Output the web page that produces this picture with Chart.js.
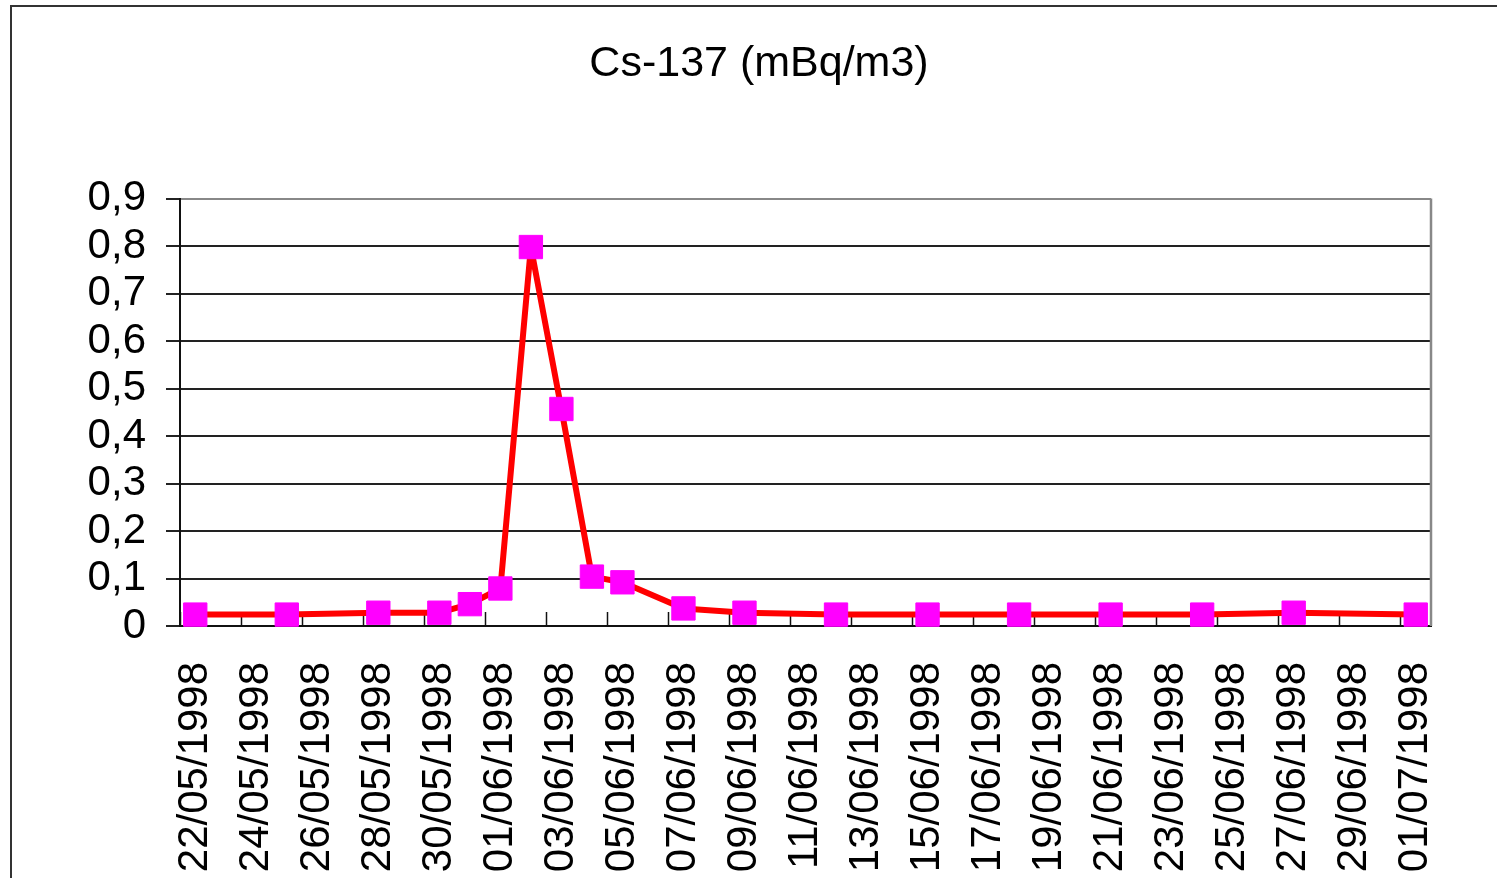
<!DOCTYPE html>
<html>
<head>
<meta charset="utf-8">
<title>Cs-137 (mBq/m3)</title>
<script src="https://cdn.jsdelivr.net/npm/chart.js@4.4.1/dist/chart.umd.min.js"></script>
<style>
  html, body { margin: 0; padding: 0; background: #fff; overflow: hidden; }
  #wrap { position: relative; width: 1497px; height: 878px; }
  #frame {
    position: absolute; left: 10px; top: 5px; width: 1600px; height: 1000px;
    border: 2px solid #333; box-sizing: border-box; pointer-events: none;
  }
  canvas { position: absolute; left: 0; top: 0; }
</style>
</head>
<body>
<div id="wrap">
  <canvas id="chart" width="1497" height="878"></canvas>
  <div id="frame"></div>
</div>
<script>
// sample dates and Cs-137 activity (mBq/m3)
const sampleDates = [
  "22/05/1998", "25/05/1998", "28/05/1998", "30/05/1998", "31/05/1998",
  "01/06/1998", "02/06/1998", "03/06/1998", "04/06/1998", "05/06/1998",
  "07/06/1998", "09/06/1998", "12/06/1998", "15/06/1998", "18/06/1998",
  "21/06/1998", "24/06/1998", "27/06/1998", "01/07/1998"
];
const cs137 = [
  0.024, 0.024, 0.028, 0.028, 0.046,
  0.079, 0.798, 0.457, 0.104, 0.092,
  0.037, 0.028, 0.024, 0.024, 0.024,
  0.024, 0.024, 0.028, 0.024
];

// x-axis labels (every 2 days) and y-axis ticks
const xTickLabels = [
  "22/05/1998", "24/05/1998", "26/05/1998", "28/05/1998", "30/05/1998",
  "01/06/1998", "03/06/1998", "05/06/1998", "07/06/1998", "09/06/1998",
  "11/06/1998", "13/06/1998", "15/06/1998", "17/06/1998", "19/06/1998",
  "21/06/1998", "23/06/1998", "25/06/1998", "27/06/1998", "29/06/1998",
  "01/07/1998"
];
const yTicks = [0, 0.1, 0.2, 0.3, 0.4, 0.5, 0.6, 0.7, 0.8, 0.9];

const FONT = "'Liberation Sans', Arial, Helvetica, sans-serif";

function toDay(s) {
  let p = s.split("/");
  let d = Date.UTC(+p[2], +p[1] - 1, +p[0]);
  let p0 = xTickLabels[0].split("/");
  let d0 = Date.UTC(+p0[2], +p0[1] - 1, +p0[0]);
  return Math.round((d - d0) / 86400000);
}

let points = sampleDates.map(function (s, i) {
  return { x: toDay(s), y: cs137[i] };
});
let labelDays = xTickLabels.map(toDay);
let labelByDay = {};
xTickLabels.forEach(function (s, i) {
  labelByDay[labelDays[i]] = s;
});

// Excel-style frame: small inside tick marks between day slots, grey right border
const plotExtras = {
  id: "plotExtras",
  beforeDatasetsDraw: function (chart) {
    let ctx = chart.ctx;
    let x = chart.scales.x;
    let area = chart.chartArea;
    ctx.save();
    ctx.strokeStyle = "#888";
    ctx.lineWidth = 2.5;
    ctx.beginPath();
    ctx.moveTo(area.right, area.top);
    ctx.lineTo(area.right, area.bottom);
    ctx.stroke();

    ctx.strokeStyle = "#111";
    ctx.lineWidth = 1.5;
    labelDays.forEach(function (d) {
      let px = Math.round(x.getPixelForValue(d - 0.5)) + 0.5;
      ctx.beginPath();
      ctx.moveTo(px, area.bottom);
      ctx.lineTo(px, area.bottom - 14);
      ctx.stroke();
    });
    ctx.restore();
  },
};

new Chart(document.getElementById("chart"), {
  type: "line",
  data: {
    datasets: [
      {
        data: points,
        borderColor: "#ff0000",
        borderWidth: 6,
        borderJoinStyle: "round",
        pointStyle: "rect",
        pointRadius: 16.5,
        pointHoverRadius: 16.5,
        pointBackgroundColor: "#ff00ff",
        pointBorderColor: "#ff00ff",
        pointBorderWidth: 1,
        tension: 0,
        clip: false,
      },
    ],
  },
  options: {
    responsive: false,
    animation: false,
    events: [],
    layout: {
      padding: { left: 87, right: 66, top: 0, bottom: 2 },
    },
    plugins: {
      legend: { display: false },
      tooltip: { enabled: false },
      title: {
        display: true,
        text: "Cs-137 (mBq/m3)",
        color: "#000",
        font: { family: FONT, size: 43, weight: "normal", lineHeight: 1.2 },
        padding: { top: 38, bottom: 109 },
      },
    },
    scales: {
      x: {
        type: "linear",
        min: -0.5,
        max: 40.5,
        afterBuildTicks: function (axis) {
          axis.ticks = labelDays.map(function (d) {
            return { value: d };
          });
        },
        afterFit: function (axis) {
          axis.height = 250;
          axis.paddingLeft = 0;
          axis.paddingRight = 0;
        },
        grid: { display: false, drawTicks: false },
        border: { display: true, color: "#111", width: 2 },
        ticks: {
          autoSkip: false,
          minRotation: 90,
          maxRotation: 90,
          padding: 36,
          color: "#000",
          font: { family: FONT, size: 42 },
          callback: function (v) {
            return labelByDay[v] || "";
          },
        },
      },
      y: {
        min: 0,
        max: 0.9,
        afterBuildTicks: function (axis) {
          axis.ticks = yTicks.map(function (v) {
            return { value: v };
          });
        },
        afterFit: function (axis) {
          axis.width = 93;
        },
        grid: {
          color: function (c) {
            return c.tick && c.tick.value >= 0.9 ? "#888" : "#222";
          },
          lineWidth: 2,
          tickLength: 14,
          tickColor: "#222",
        },
        border: { display: true, color: "#111", width: 2 },
        ticks: {
          autoSkip: false,
          padding: 20,
          color: "#000",
          font: { family: FONT, size: 42 },
          callback: function (v) {
            return v === 0 ? "0" : v.toFixed(1).replace(".", ",");
          },
        },
      },
    },
  },
  plugins: [plotExtras],
});
</script>
</body>
</html>
